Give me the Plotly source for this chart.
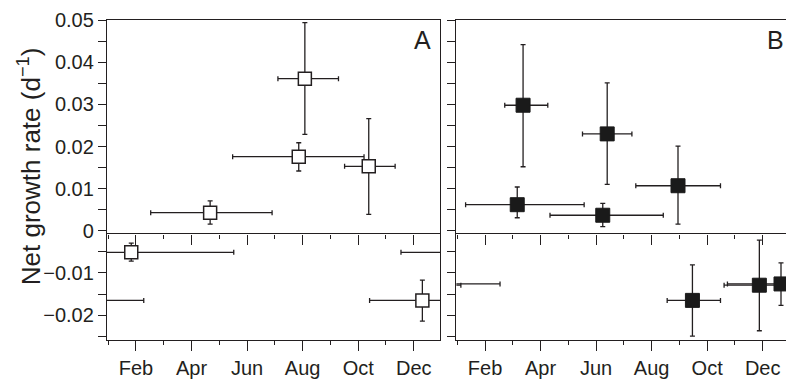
import plotly.graph_objects as go

# ---------------- data ----------------
MONTH_TICKS = [2, 4, 6, 8, 10, 12]
MONTH_LABELS = ["Feb", "Apr", "Jun", "Aug", "Oct", "Dec"]
MONTH_MINOR = [1, 3, 5, 7, 9, 11, 13]

RATE_TICKS = [-0.025, -0.02, -0.015, -0.01, -0.005, 0, 0.005, 0.01, 0.015,
              0.02, 0.025, 0.03, 0.035, 0.04, 0.045, 0.05]
RATE_LABELS = ["", "\u22120.02", "", "\u22120.01", "", "0", "", "0.01", "",
               "0.02", "", "0.03", "", "0.04", "", "0.05"]

# Panel A (open squares)
a_month = [8.08, 7.86, 10.38, 4.67, 1.83, 12.31]
a_rate = [0.0361, 0.0176, 0.0153, 0.0043, -0.0051, -0.0165]
a_rate_up = [0.0133, 0.0033, 0.0113, 0.0028, 0.0022, 0.0048]
a_rate_down = [0.0132, 0.0034, 0.0114, 0.0027, 0.0021, 0.0049]
a_month_up = [1.21, 2.35, 0.95, 2.23, 3.69, 1.97]
a_month_down = [0.97, 2.38, 0.87, 2.14, 2.29, 1.90]

# Panel B (filled squares)
b_month = [3.37, 6.40, 8.95, 3.16, 6.24, 9.47, 11.88, 12.66]
b_rate = [0.0298, 0.0230, 0.0107, 0.0062, 0.0037, -0.0165, -0.0129, -0.0126]
b_rate_up = [0.0144, 0.0121, 0.0094, 0.0042, 0.0028, 0.0084, 0.0107, 0.0050]
b_rate_down = [0.0146, 0.0120, 0.0091, 0.0031, 0.0027, 0.0085, 0.0108, 0.0051]
b_month_up = [0.89, 0.89, 1.53, 2.41, 2.18, 1.01, 1.25, 1.88]
b_month_down = [0.66, 0.89, 1.52, 1.86, 1.90, 0.91, 1.27, 1.93]

PERIOD = 12  # months: error bars wrap around the year

# ---------------- layout constants (page pixels) ----------------
INK = "#231f20"
FONT = "Liberation Sans, Arial, Helvetica, sans-serif"
PAGE_W, PAGE_H = 794, 380
BODY = 8  # default body margin of the html page
W, H = PAGE_W - BODY, PAGE_H - BODY
PLOT_L, PLOT_R, PLOT_T, PLOT_B = 107, 792.8, 17.3, 341  # page px
ML, MR, MT, MB = PLOT_L - BODY, PAGE_W - PLOT_R, PLOT_T - BODY, PAGE_H - PLOT_B
PW, PH = W - ML - MR, H - MT - MB

Y_RANGE = [-0.0259, 0.05002]
A_RANGE = [0.957, 12.96]
B_RANGE = [0.968, 13.02]
A_DOMAIN = [0.0, (441.3 - PLOT_L) / PW]
B_DOMAIN = [(457.3 - PLOT_L) / PW, 1.0]
ZERO_LINE = -0.00063
zero_pos = (ZERO_LINE - Y_RANGE[0]) / (Y_RANGE[1] - Y_RANGE[0])


def px_x(p):
    return (p - PLOT_L) / PW


def px_y(p):
    return (PLOT_B - p) / PH


fig = go.Figure()

err_style = dict(color=INK, thickness=1.3, width=2.5)


def add_panel(xs, ys, yu, yd, xu, xd, xref, yref, marker, xr):
    fig.add_trace(go.Scatter(
        x=xs, y=ys, mode="markers", marker=marker,
        error_x=dict(type="data", symmetric=False, array=xu, arrayminus=xd, **err_style),
        error_y=dict(type="data", symmetric=False, array=yu, arrayminus=yd, **err_style),
        xaxis=xref, yaxis=yref, showlegend=False, hoverinfo="skip"))
    gx, gy, gu, gd = [], [], [], []
    for x, y, u, d in zip(xs, ys, xu, xd):
        if x + u > xr[1]:
            gx.append(x - PERIOD); gy.append(y); gu.append(u); gd.append(0)
        if x - d < xr[0]:
            gx.append(x + PERIOD); gy.append(y); gu.append(0); gd.append(d)
    if gx:
        fig.add_trace(go.Scatter(
            x=gx, y=gy, mode="markers", marker=dict(size=1, opacity=0),
            error_x=dict(type="data", symmetric=False, array=gu, arrayminus=gd, **err_style),
            xaxis=xref, yaxis=yref, showlegend=False, hoverinfo="skip"))


add_panel(a_month, a_rate, a_rate_up, a_rate_down, a_month_up, a_month_down,
          "x", "y", dict(symbol="square", size=13, color="white",
                         line=dict(color=INK, width=1.5)), A_RANGE)
add_panel(b_month, b_rate, b_rate_up, b_rate_down, b_month_up, b_month_down,
          "x2", "y2", dict(symbol="square", size=14, color="#1a1a1a",
                           line=dict(color="#1a1a1a", width=1)), B_RANGE)

# empty traces so the middle (zero) axes are drawn
fig.add_trace(go.Scatter(x=[], y=[], xaxis="x3", yaxis="y", showlegend=False))
fig.add_trace(go.Scatter(x=[], y=[], xaxis="x4", yaxis="y2", showlegend=False))

xcommon = dict(showgrid=False, zeroline=False, showline=True, linecolor=INK, linewidth=1.3,
               tickmode="array", tickvals=MONTH_TICKS, ticktext=MONTH_LABELS,
               ticks="outside", ticklen=10, tickwidth=1.3, tickcolor=INK,
               minor=dict(tickmode="array", tickvals=MONTH_MINOR, ticks="outside",
                          ticklen=4, tickwidth=1.3, tickcolor=INK))
ycommon = dict(range=Y_RANGE, showgrid=False, zeroline=False, showline=True, linecolor=INK,
               linewidth=1.3, mirror=True, tickmode="array", tickvals=RATE_TICKS,
               ticks="outside", ticklen=8, tickwidth=1.3, tickcolor=INK,
               ticklabeloverflow="allow",
               tickfont=dict(family=FONT, size=20, color=INK))
tickfont = dict(family=FONT, size=20, color=INK)

fig.update_layout(
    width=W, height=H, margin=dict(l=ML, r=MR, t=MT, b=MB, pad=0),
    paper_bgcolor="white", plot_bgcolor="white",
    xaxis=dict(domain=A_DOMAIN, range=A_RANGE, anchor="y", mirror=True,
               tickfont=tickfont, **xcommon),
    xaxis2=dict(domain=B_DOMAIN, range=B_RANGE, anchor="y2", mirror=True,
                tickfont=tickfont, **xcommon),
    xaxis3=dict(overlaying="x", anchor="free", position=zero_pos, range=A_RANGE,
                showticklabels=False, **xcommon),
    xaxis4=dict(overlaying="x2", anchor="free", position=zero_pos, range=B_RANGE,
                showticklabels=False, **xcommon),
    yaxis=dict(anchor="x", ticktext=RATE_LABELS, **ycommon),
    yaxis2=dict(anchor="x2", showticklabels=False, **ycommon),
    annotations=[
        dict(text="Net growth rate (d<sup>\u22121</sup>)", textangle=-90,
             xref="paper", yref="paper", x=px_x(29), y=px_y(165),
             xanchor="center", yanchor="middle", showarrow=False,
             font=dict(family=FONT, size=26, color=INK)),
        dict(text="A", xref="paper", yref="paper", x=px_x(423), y=px_y(37.5),
             xanchor="center", yanchor="middle", showarrow=False,
             font=dict(family=FONT, size=25, color=INK)),
        dict(text="B", xref="paper", yref="paper", x=px_x(777), y=px_y(38),
             xanchor="center", yanchor="middle", showarrow=False,
             font=dict(family=FONT, size=25, color=INK)),
    ],
)

fig.write_html("out.html")
